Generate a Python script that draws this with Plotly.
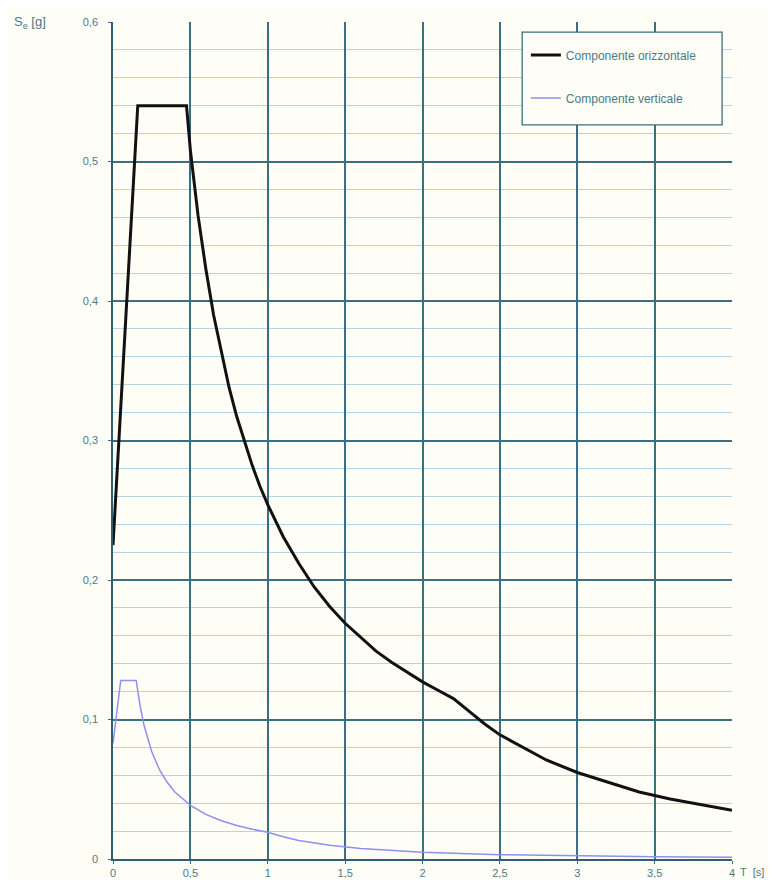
import plotly.graph_objects as go

# Horizontal component (T [s], Se [g])
T_h = [0.0, 0.16, 0.475, 0.5, 0.55, 0.6, 0.65, 0.7, 0.75, 0.8, 0.85, 0.9, 0.95, 1.0,
       1.1, 1.2, 1.3, 1.4, 1.5, 1.6, 1.7, 1.8, 1.9, 2.0, 2.1, 2.2, 2.3, 2.4, 2.5,
       2.6, 2.8, 3.0, 3.2, 3.4, 3.6, 3.8, 4.0]
Se_h = [0.225, 0.54, 0.54, 0.508, 0.461, 0.423, 0.390, 0.363, 0.338, 0.317, 0.299,
        0.282, 0.267, 0.254, 0.231, 0.212, 0.195, 0.181, 0.169, 0.159, 0.149, 0.141,
        0.134, 0.127, 0.121, 0.115, 0.106, 0.097, 0.089, 0.083, 0.071, 0.062, 0.055,
        0.048, 0.043, 0.039, 0.035]

# Vertical component
T_v = [0.0, 0.05, 0.15, 0.175, 0.2, 0.25, 0.3, 0.35, 0.4, 0.45, 0.5, 0.6, 0.7, 0.8,
       0.9, 1.0, 1.1, 1.2, 1.3, 1.4, 1.6, 1.8, 2.0, 2.5, 3.0, 3.5, 4.0]
Se_v = [0.083, 0.128, 0.128, 0.110, 0.096, 0.077, 0.064, 0.055, 0.048, 0.043, 0.0384,
        0.032, 0.0274, 0.024, 0.0213, 0.0192, 0.0159, 0.0133, 0.0114, 0.0098, 0.0075,
        0.0059, 0.0048, 0.0031, 0.0021, 0.0016, 0.0012]

x_ticks = [0, 0.5, 1, 1.5, 2, 2.5, 3, 3.5, 4]
x_labels = ["0", "0,5", "1", "1,5", "2", "2,5", "3", "3,5", "4"]
y_ticks = [0, 0.1, 0.2, 0.3, 0.4, 0.5, 0.6]
y_labels = ["0", "0,1", "0,2", "0,3", "0,4", "0,5", "0,6"]

names = ["Componente orizzontale", "Componente verticale"]

major = "#3a6f80"
minor = "#b4d6e4"
txt = "#4a7a8a"
bg = "#fffef6"

fig = go.Figure()
fig.add_trace(go.Scatter(x=T_h, y=Se_h, mode="lines", name=names[0], legendgroup="h",
                         line=dict(color="#111111", width=3)))
fig.add_trace(go.Scatter(x=T_v, y=Se_v, mode="lines", name=names[1], legendgroup="v",
                         line=dict(color="#8f8fee", width=1.5)))

fig.update_layout(
    width=762, height=870,
    margin=dict(l=105, r=38, t=14, b=19),
    paper_bgcolor=bg,
    plot_bgcolor=bg,
    font=dict(family="Liberation Sans, Arial", size=11, color=txt),
    showlegend=True,
    legend=dict(
        x=0.667, y=0.978, xanchor="left", yanchor="top",
        bgcolor="rgba(0,0,0,0)", borderwidth=0,
        font=dict(size=12, color=txt),
        tracegroupgap=24,
    ),
    xaxis=dict(
        range=[0, 4], tickvals=x_ticks, ticktext=x_labels,
        showgrid=True, gridcolor=major, gridwidth=1.5,
        zeroline=False, showline=True, linecolor="#2f5f70", linewidth=1.5,
        ticks="outside", ticklen=3, tickcolor=major,
        tickfont=dict(size=11, color=txt), automargin=False,
    ),
    yaxis=dict(
        range=[0, 0.6], tickvals=y_ticks, ticktext=y_labels,
        showgrid=True, gridcolor=major, gridwidth=1.5,
        zeroline=False, showline=True, linecolor="#2f5f70", linewidth=1.5,
        ticks="outside", ticklen=3, tickcolor=major,
        tickfont=dict(size=11, color=txt), automargin=False,
        ticklabelstandoff=8,
        minor=dict(dtick=0.02, showgrid=True, gridcolor=minor, gridwidth=1),
    ),
)

# legend frame
fig.add_shape(type="rect", xref="paper", yref="paper",
              x0=0.661, x1=0.984, y0=0.877, y1=0.988,
              line=dict(color=major, width=1.3), fillcolor=bg, layer="above")

fig.add_annotation(x=-0.163, y=1.0, xref="paper", yref="paper",
                   text="S<sub>e</sub> [g]", showarrow=False,
                   xanchor="left", yanchor="middle",
                   font=dict(size=13, color=txt))
fig.add_annotation(x=1.01, y=-0.006, xref="paper", yref="paper",
                   text="T  [s]", showarrow=False,
                   xanchor="left", yanchor="top",
                   font=dict(size=11, color=txt))

fig.write_html("out.html")
